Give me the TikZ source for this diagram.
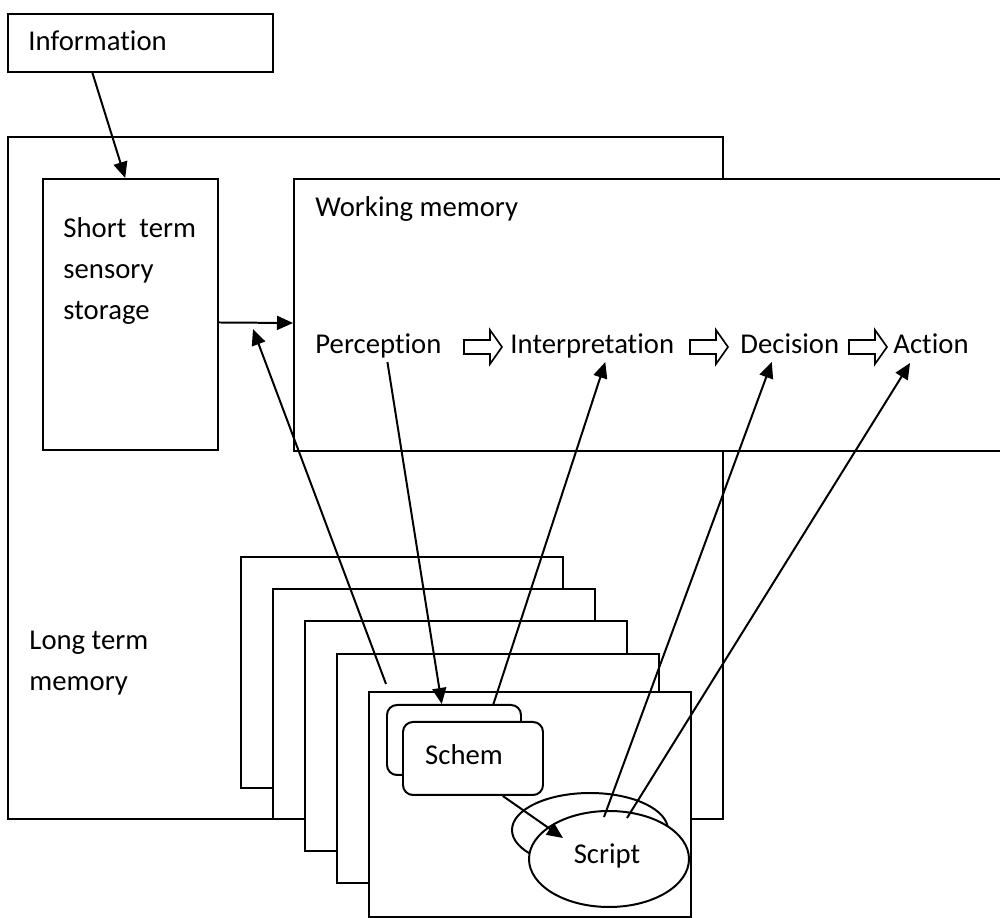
\documentclass[tikz,border=0pt]{standalone}
\usepackage{fontspec}
\setmainfont[Ligatures={NoCommon}]{Carlito}
\usetikzlibrary{arrows.meta,calc,shapes.geometric}

\newcommand{\pxu}{0.015cm}

\begin{document}
\begin{tikzpicture}[
  x=0.015cm, y=-0.015cm,
  font=\fontsize{12.25pt}{17.5pt}\selectfont,
  box/.style={draw, line width=0.85pt, fill=white, inner sep=0pt, anchor=north west},
  schembox/.style={box, rounded corners=0.15cm},
  scriptell/.style={ellipse, draw, line width=0.85pt, fill=white, inner sep=0pt},
  lbl/.style={inner sep=0pt, anchor=base west, align=left},
  hollow/.style={draw, line width=0.7pt, fill=white},
  arr/.style={-{Triangle[length=0.24cm, width=0.21cm]}, line width=0.85pt},
]
  \useasboundingbox (0,0) rectangle (1000,918);
  \clip (0,0) rectangle (1000,918);

  % memory stores
  \node[box, minimum width=715*\pxu, minimum height=682*\pxu] (ltm) at (7,136) {};
  \node[box, minimum width=265*\pxu, minimum height=58*\pxu] (info) at (7,13) {};
  \node[box, minimum width=175*\pxu, minimum height=271*\pxu] (stss) at (42,178) {};
  \node[box, minimum width=717*\pxu, minimum height=272*\pxu] (wm) at (293,178) {};

  % stacked knowledge frames
  \foreach \n/\fx/\fy/\fh in {1/240/556/231, 2/272/588/230, 3/304/620/230, 4/336/653/229, 5/368/691/225}
    \node[box, minimum width=322*\pxu, minimum height=\fh*\pxu] (frame\n) at (\fx,\fy) {};

  \node[schembox, minimum width=134*\pxu, minimum height=70*\pxu] (schemback) at (386,704) {};
  \node[schembox, minimum width=140*\pxu, minimum height=73*\pxu] (schem) at (402,721) {};
  \node[anchor=center, inner sep=0pt] (schemlbl) at (464,755) {Schem};

  \node[scriptell, minimum width=156*\pxu, minimum height=74*\pxu] (scriptback) at (590,830) {};
  \node[scriptell, minimum width=160*\pxu, minimum height=96*\pxu] (script) at (609,859) {};
  \node[anchor=center, inner sep=0pt] (scriptlbl) at (607,856) {Script};

  % labels
  \node[lbl] (infolbl) at (28,51) {Information};
  \node[lbl, anchor=north west] (stsslbl) at (63,217) {Short\ \ term\\sensory\\storage};
  \node[lbl] (wmlbl) at (315,217) {Working memory};
  \node[lbl, anchor=north west] (ltmlbl) at (29,631) {Long term\\memory};

  \node[lbl] (perc) at (315,354) {Perception};
  \node[lbl] (interp) at (510,354) {Interpretation};
  \node[lbl] (dec) at (740,354) {Decision};
  \node[lbl] (act) at (893,354) {Action};

  % hollow process arrows
  \foreach \cx in {482,708,867}
    \draw[hollow] (\cx,347) ++(-18,-7) -- ++(26,0) -- ++(0,-10) -- ++(12,17)
      -- ++(-12,17) -- ++(0,-10) -- ++(-26,0) -- cycle;

  % connectors
  \coordinate (recall) at (253,329);
  \coordinate (retrieve) at ($(frame5.north west)+(18,-7)$);

  \draw[arr] ($(info.south west)!0.32!(info.south east)$) -- ($(stss.north west)!0.47!(stss.north east)$);
  \draw[arr] ($(stss.east)+(0,8)$) -- ($(wm.west)+(0,8)$);
  \draw[arr] (retrieve) -- (recall);
  \draw[arr] ($(perc.base)+(9,8)$) -- ($(schemback.north west)!0.41!(schemback.north east)$);
  \draw[arr] ($(schemback.north west)!0.79!(schemback.north east)$) -- ($(interp.base)+(13,8)$);
  \draw[arr] ($(schem.south west)!0.71!(schem.south east)$) -- ($(script.center)+(-46,-21)$);
  \draw[arr] ($(script.center)+(-5,-42)$) -- ($(dec.base)+(-18,8)$);
  \draw[arr] ($(script.center)+(18,-41)$) -- ($(act.base)+(-21,9)$);
\end{tikzpicture}
\end{document}
